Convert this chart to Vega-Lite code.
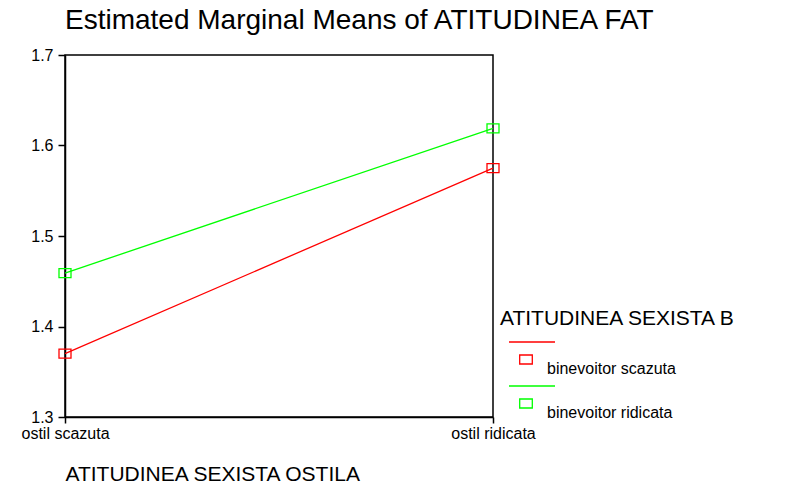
{
  "$schema": "https://vega.github.io/schema/vega-lite/v6.json",
  "width": 428,
  "height": 362,
  "autosize": {"type": "none"},
  "padding": {"left": 65, "top": 55, "right": 310, "bottom": 68},
  "background": "white",
  "title": {
    "text": "Estimated Marginal Means of ATITUDINEA FAT",
    "anchor": "start",
    "frame": "group",
    "font": "Liberation Sans",
    "fontSize": 28,
    "fontWeight": "normal",
    "color": "black",
    "offset": 12
  },
  "data": {
    "values": [
      {"ostila": "ostil scazuta", "binevoitor": "binevoitor scazuta", "mean": 1.370},
      {"ostila": "ostil ridicata", "binevoitor": "binevoitor scazuta", "mean": 1.575},
      {"ostila": "ostil scazuta", "binevoitor": "binevoitor ridicata", "mean": 1.459},
      {"ostila": "ostil ridicata", "binevoitor": "binevoitor ridicata", "mean": 1.619}
    ]
  },
  "encoding": {
    "x": {
      "field": "ostila",
      "type": "ordinal",
      "sort": ["ostil scazuta", "ostil ridicata"],
      "scale": {"type": "point", "padding": 0},
      "axis": {
        "title": "ATITUDINEA SEXISTA OSTILA",
        "labelAngle": 0,
        "labelFontSize": 16,
        "labelPadding": 2,
        "tickSize": 6,
        "titleFontSize": 21,
        "titleAnchor": "start",
        "titleAlign": "left",
        "titlePadding": 22
      }
    },
    "y": {
      "field": "mean",
      "type": "quantitative",
      "scale": {"domain": [1.3, 1.7], "nice": false, "zero": false},
      "axis": {
        "title": null,
        "values": [1.3, 1.4, 1.5, 1.6, 1.7],
        "format": ".1f",
        "labelFontSize": 16,
        "labelPadding": 5,
        "tickSize": 7
      }
    },
    "color": {
      "field": "binevoitor",
      "type": "nominal",
      "sort": ["binevoitor scazuta", "binevoitor ridicata"],
      "scale": {
        "domain": ["binevoitor scazuta", "binevoitor ridicata"],
        "range": ["#ff0000", "#00ff00"]
      },
      "legend": {
        "orient": "none",
        "legendX": 435,
        "legendY": 253,
        "title": "ATITUDINEA SEXISTA B",
        "titleFont": "Liberation Sans",
        "titleFontSize": 21,
        "titleFontWeight": "normal",
        "titleColor": "black",
        "titleLimit": 400,
        "titlePadding": 29,
        "labelFont": "Liberation Sans",
        "labelFontSize": 16,
        "labelColor": "black",
        "labelLimit": 300,
        "symbolType": "M-1.7,-2.7H2.9M-0.63,-1.4H0.63V-0.5H-0.63Z",
        "symbolSize": 400,
        "symbolStrokeWidth": 1.3,
        "symbolFillColor": "transparent",
        "symbolOffset": 15,
        "labelOffset": 10,
        "rowPadding": 6
      }
    }
  },
  "layer": [
    {"mark": {"type": "line", "strokeWidth": 1.3}},
    {
      "mark": {
        "type": "point",
        "shape": "M-1.2,-0.9H1.2V0.9H-1.2Z",
        "size": 100,
        "filled": false,
        "strokeWidth": 1.3,
        "opacity": 1
      }
    }
  ],
  "config": {
    "view": {"stroke": "black", "strokeWidth": 1.5},
    "axis": {
      "grid": false,
      "domainColor": "black",
      "domainWidth": 1.5,
      "tickColor": "black",
      "tickWidth": 1.5,
      "labelColor": "black",
      "titleColor": "black",
      "labelFont": "Liberation Sans",
      "titleFont": "Liberation Sans",
      "titleFontWeight": "normal"
    }
  }
}
